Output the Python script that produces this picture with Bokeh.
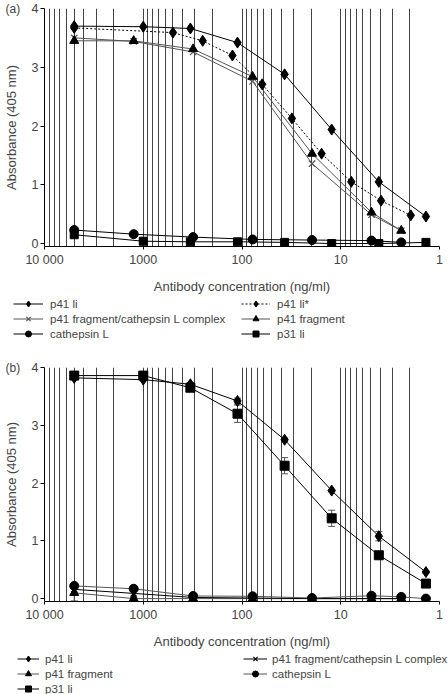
from bokeh.plotting import figure
from bokeh.models import (Range1d, FixedTicker, Legend, LegendItem, Title,
                          Whisker, ColumnDataSource, TeeHead)
from bokeh.layouts import column
from bokeh.embed import file_html
from bokeh.resources import INLINE

FONT = "Liberation Sans"

# ---------------- data ----------------
x_ticks = [10000, 1000, 100, 10, 1]
x_tick_labels = ["10 000", "1000", "100", "10", "1"]
y_ticks = [0, 1, 2, 3, 4]

conc_3fold = [5000, 1000, 333.3, 111.1, 37.04, 12.35, 4.115, 1.372]
conc_4fold = [5000, 1250, 312.5, 78.13, 19.53, 4.883, 2.441]
conc_2fold = [5000, 500, 250, 125, 62.5, 31.25, 15.63, 7.813, 3.906, 1.953]
conc_cat_b = [5000, 1250, 312.5, 78.13, 19.53, 4.883, 2.441, 1.372]

# panel (a)
a_p41_li = [3.70, 3.69, 3.66, 3.42, 2.88, 1.94, 1.05, 0.46]
a_p41_li_star = [3.67, 3.59, 3.45, 3.20, 2.71, 2.13, 1.53, 1.05, 0.73, 0.48]
a_p41_fragment = [3.45, 3.45, 3.31, 2.84, 1.53, 0.53, 0.22]
a_complex = [3.50, 3.44, 3.26, 2.76, 1.36, 0.49, 0.22]
a_cathepsin_l = [0.23, 0.16, 0.11, 0.07, 0.06, 0.05, 0.02]
a_p31_li = [0.15, 0.04, 0.03, 0.03, 0.02, 0.00, 0.00, 0.02]

# panel (b)
b_p41_li = [3.82, 3.79, 3.71, 3.42, 2.75, 1.87, 1.08, 0.46]
b_p41_li_err = [0.02, 0.02, 0.03, 0.05, 0.03, 0.02, 0.08, 0.02]
b_p31_li = [3.86, 3.86, 3.65, 3.20, 2.30, 1.39, 0.75, 0.26]
b_p31_li_err = [0.03, 0.03, 0.03, 0.15, 0.14, 0.14, 0.04, 0.03]
b_p41_fragment = [0.10, 0.00, 0.00, 0.00, 0.00, 0.00, 0.00]
b_p41_fragment_err = [0.14, 0.02, 0.00, 0.00, 0.00, 0.00, 0.00]
b_complex = [0.16, 0.09, 0.02, 0.01, 0.00, 0.00, 0.00]
b_cathepsin_l = [0.22, 0.17, 0.045, 0.04, 0.01, 0.05, 0.03, 0.00]

GRAY = "#555555"
BLACK = "#000000"

STYLES = {
    "p41 li": dict(marker="diamond", lc=BLACK, mc=BLACK, size=11, dash="solid"),
    "p41 li*": dict(marker="diamond", lc=BLACK, mc=BLACK, size=11, dash="2 2"),
    "complex_a": dict(marker="x", lc=GRAY, mc=GRAY, size=9, dash="solid"),
    "complex_b": dict(marker="x", lc=BLACK, mc=BLACK, size=9, dash="solid"),
    "fragment": dict(marker="triangle", lc=GRAY, mc=BLACK, size=9, dash="solid"),
    "cathepsin_a": dict(marker="circle", lc=BLACK, mc=BLACK, size=9, dash="solid"),
    "cathepsin_b": dict(marker="circle", lc=GRAY, mc=BLACK, size=9, dash="solid"),
    "p31 li a": dict(marker="square", lc=BLACK, mc=BLACK, size=8, dash="solid"),
    "p31 li b": dict(marker="square", lc=BLACK, mc=BLACK, size=9, dash="solid"),
}


def draw(p, x, y, st):
    lr = p.line(x, y, line_color=st["lc"], line_width=1, line_dash=st["dash"])
    if st["marker"] == "x":
        sr = p.scatter(x, y, marker="x", size=st["size"], line_color=st["mc"],
                       line_width=1.2)
    else:
        sr = p.scatter(x, y, marker=st["marker"], size=st["size"],
                       fill_color=st["mc"], line_color=st["mc"])
    return [lr, sr]


def no_frame_align(f):
    if "frame_align" in f.properties():
        f.frame_align = False


def make_panel(height, border_top, border_bottom, tag):
    p = figure(width=448, height=height, x_axis_type="log",
               x_range=Range1d(10000, 1), y_range=Range1d(-0.05, 4.0),
               output_backend="svg", toolbar_location=None,
               min_border_left=41, min_border_right=9,
               min_border_top=border_top, min_border_bottom=border_bottom)
    p.outline_line_color = None
    minor = [k * 10 ** d for d in range(0, 4) for k in range(2, 10)]
    p.xaxis.ticker = FixedTicker(ticks=x_ticks, minor_ticks=minor)
    p.xaxis.major_label_overrides = {t: l for t, l in zip(x_ticks, x_tick_labels)}
    p.yaxis.ticker = FixedTicker(ticks=y_ticks)
    p.xgrid.grid_line_color = "#444444"
    p.xgrid.minor_grid_line_color = "#444444"
    p.ygrid.grid_line_color = None
    for ax in (p.xaxis[0], p.yaxis[0]):
        ax.axis_line_color = BLACK
        ax.major_tick_line_color = BLACK
        ax.major_tick_in = 0
        ax.minor_tick_line_color = None
        ax.major_label_text_font = FONT
        ax.major_label_text_font_size = "12.5px"
        ax.axis_label_text_font = FONT
        ax.axis_label_text_font_size = "13px"
        ax.axis_label_text_font_style = "normal"
    p.xaxis.major_tick_out = 3
    p.yaxis.major_tick_out = 4
    p.xaxis.major_label_standoff = 2
    p.xaxis.axis_label_standoff = 9
    p.yaxis.major_label_standoff = 2
    p.yaxis.axis_label_standoff = 10
    p.xaxis.axis_label = "Antibody concentration (ng/ml)"
    p.yaxis.axis_label = "Absorbance (405 nm)"
    p.add_layout(Title(text=tag, align="left", offset=-39, standoff=-14,
                       text_font=FONT, text_font_size="12px",
                       text_font_style="normal"), "above")
    no_frame_align(p)
    return p


def make_legend_fig(height):
    # ranges chosen so that the proxy series (same data) fall outside the view
    f = figure(width=448, height=height, x_range=Range1d(0, 1),
               y_range=Range1d(0, 1), output_backend="svg",
               toolbar_location=None, x_axis_location=None,
               y_axis_location=None, min_border=0)
    f.outline_line_color = None
    f.grid.grid_line_color = None
    no_frame_align(f)
    return f


def add_legend(f, entries, x, y, glyph_width, standoff, row_h):
    items = [LegendItem(label=lab, renderers=draw(f, xs, ys, STYLES[key]))
             for lab, key, xs, ys in entries]
    leg = Legend(items=items, location=(x, y), orientation="vertical",
                 glyph_width=glyph_width, glyph_height=row_h,
                 label_height=row_h, label_standoff=standoff, spacing=0,
                 padding=0, margin=0, border_line_color=None,
                 background_fill_alpha=0,
                 label_text_font=FONT, label_text_font_size="11.5px")
    f.add_layout(leg)


def add_whisker(p, x, y, err):
    src = ColumnDataSource(dict(base=x,
                                upper=[v + e for v, e in zip(y, err)],
                                lower=[v - e for v, e in zip(y, err)]))
    w = Whisker(base="base", upper="upper", lower="lower", source=src,
                dimension="height", line_color=GRAY, line_width=1,
                level="underlay",
                upper_head=TeeHead(size=7, line_color=GRAY, line_width=1),
                lower_head=TeeHead(size=7, line_color=GRAY, line_width=1))
    p.add_layout(w)


# ---------------- panel (a) ----------------
pa = make_panel(296, 8, 45, "(a)")
draw(pa, conc_4fold, a_cathepsin_l, STYLES["cathepsin_a"])
draw(pa, conc_3fold, a_p31_li, STYLES["p31 li a"])
draw(pa, conc_4fold, a_complex, STYLES["complex_a"])
draw(pa, conc_4fold, a_p41_fragment, STYLES["fragment"])
draw(pa, conc_2fold, a_p41_li_star, STYLES["p41 li*"])
draw(pa, conc_3fold, a_p41_li, STYLES["p41 li"])

la = make_legend_fig(56)
add_legend(la, [("p41 li", "p41 li", conc_3fold, a_p41_li),
                ("p41 fragment/cathepsin L complex", "complex_a", conc_4fold, a_complex),
                ("cathepsin L", "cathepsin_a", conc_4fold, a_cathepsin_l)],
           13, 11, 30, 7, 15)
add_legend(la, [("p41 li*", "p41 li*", conc_2fold, a_p41_li_star),
                ("p41 fragment", "fragment", conc_4fold, a_p41_fragment),
                ("p31 li", "p31 li a", conc_3fold, a_p31_li)],
           241, 11, 29, 7, 15)

# ---------------- panel (b) ----------------
pb = make_panel(299, 15, 45, "(b)")
add_whisker(pb, conc_3fold, b_p31_li, b_p31_li_err)
add_whisker(pb, conc_3fold, b_p41_li, b_p41_li_err)
add_whisker(pb, conc_4fold, b_p41_fragment, b_p41_fragment_err)
draw(pb, conc_4fold, b_p41_fragment, STYLES["fragment"])
draw(pb, conc_4fold, b_complex, STYLES["complex_b"])
draw(pb, conc_cat_b, b_cathepsin_l, STYLES["cathepsin_b"])
draw(pb, conc_3fold, b_p31_li, STYLES["p31 li b"])
draw(pb, conc_3fold, b_p41_li, STYLES["p41 li"])

lb = make_legend_fig(43)
add_legend(lb, [("p41 li", "p41 li", conc_3fold, b_p41_li),
                ("p41 fragment", "fragment", conc_4fold, b_p41_fragment),
                ("p31 li", "p31 li b", conc_3fold, b_p31_li)],
           17, -2, 22, 6, 15)
add_legend(lb, [("p41 fragment/cathepsin L complex", "complex_b", conc_4fold, b_complex),
                ("cathepsin L", "cathepsin_b", conc_cat_b, b_cathepsin_l)],
           243, 13, 24, 5, 15)

layout = column(pa, la, pb, lb, spacing=0)
open("out.html", "w").write(file_html(layout, INLINE))
